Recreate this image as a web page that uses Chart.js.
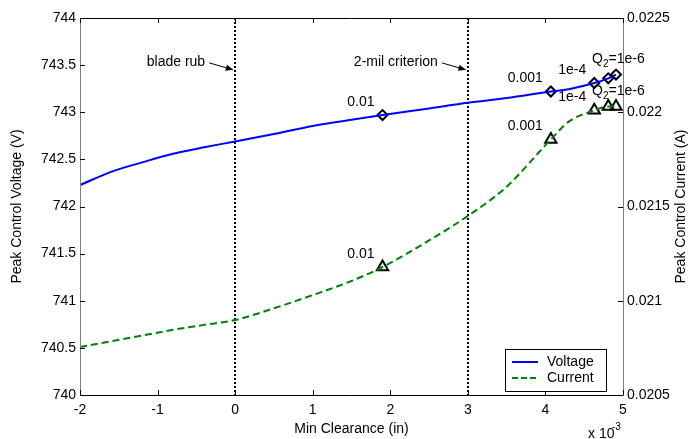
<!DOCTYPE html>
<html>
<head>
<meta charset="utf-8">
<script src="https://cdn.jsdelivr.net/npm/chart.js@4"></script>
<style>
  body { margin: 0; background: #fff; }
  #wrap { width: 690px; height: 439px; position: relative; }
</style>
</head>
<body>
<div id="wrap"><canvas id="myChart"></canvas></div>
<script>
const FONT = '"Liberation Sans", Arial, sans-serif';

// curve samples (x in units of 1e-3 in)
const clearance = [-2, -1.6, -1.2, -0.8, -0.4, 0, 0.5, 1, 1.5, 1.9, 2.5, 3, 3.5, 4.07, 4.3, 4.63, 4.81, 4.91];
const voltage = [742.227, 742.368, 742.468, 742.56, 742.628, 742.69, 742.77, 742.855, 742.92, 742.97,
  743.04, 743.10, 743.15, 743.22, 743.245, 743.31, 743.36, 743.40];
const current = [0.020755, 0.020785, 0.020815, 0.020846, 0.020872, 0.020898, 0.02096, 0.02103, 0.021105,
  0.021179, 0.02132, 0.02145, 0.021605, 0.021856, 0.02195, 0.02201, 0.02203, 0.02203];

// Q2 markers
const markerClearance = [1.9, 4.07, 4.63, 4.81, 4.91];
const markerVoltage = [742.97, 743.22, 743.31, 743.36, 743.40];
const markerCurrent = [0.021179, 0.021856, 0.02201, 0.02203, 0.02203];
const markerLabels = ["0.01", "0.001", "1e-4", "", "Q2=1e-6"];

// vertical reference lines
const refLines = [0, 3];
const refLabels = ["blade rub", "2-mil criterion"];

const toXY = (xs, ys) => xs.map((x, i) => ({ x, y: ys[i] }));
const fmt = v => String(Number(v.toFixed(6)));

function drawLabel(ctx, text, x, y) {
  ctx.fillStyle = "#000";
  ctx.textBaseline = "middle";
  if (text.startsWith("Q2")) {
    // Q with subscript 2
    ctx.textAlign = "left";
    let cx = x - 24;
    ctx.font = "14px " + FONT;
    ctx.fillText("Q", cx, y - 15);
    cx += ctx.measureText("Q").width;
    ctx.font = "10px " + FONT;
    ctx.fillText("2", cx, y - 10);
    cx += ctx.measureText("2").width;
    ctx.font = "14px " + FONT;
    ctx.fillText(text.slice(2), cx, y - 15);
  } else {
    ctx.font = "14px " + FONT;
    ctx.textAlign = "right";
    ctx.fillText(text, x - 8, y - 13);
  }
}

function arrow(ctx, x1, y1, x2, y2) {
  ctx.strokeStyle = "#000";
  ctx.fillStyle = "#000";
  ctx.lineWidth = 1;
  ctx.setLineDash([]);
  ctx.beginPath();
  ctx.moveTo(x1, y1);
  ctx.lineTo(x2, y2);
  ctx.stroke();
  const a = Math.atan2(y2 - y1, x2 - x1);
  ctx.beginPath();
  ctx.moveTo(x2, y2);
  ctx.lineTo(x2 - 8 * Math.cos(a - 0.4), y2 - 8 * Math.sin(a - 0.4));
  ctx.lineTo(x2 - 8 * Math.cos(a + 0.4), y2 - 8 * Math.sin(a + 0.4));
  ctx.closePath();
  ctx.fill();
}

const overlay = {
  id: "overlay",
  beforeDatasetsDraw(chart) {
    const { ctx, chartArea: ca, scales } = chart;
    ctx.save();
    ctx.strokeStyle = "#000";
    ctx.lineWidth = 2;
    ctx.setLineDash([2, 2]);
    refLines.forEach(v => {
      const x = Math.round(scales.x.getPixelForValue(v));
      ctx.beginPath();
      ctx.moveTo(x, ca.top);
      ctx.lineTo(x, ca.bottom);
      ctx.stroke();
    });
    ctx.restore();
  },
  afterDraw(chart) {
    const { ctx, chartArea: ca, scales } = chart;
    const sx = scales.x, sy = scales.y, sy1 = scales.y1;
    ctx.save();

    // frame
    ctx.setLineDash([]);
    ctx.lineWidth = 1;
    ctx.strokeStyle = "#000";
    ctx.beginPath();
    ctx.moveTo(ca.left, ca.top + 0.5); ctx.lineTo(ca.right, ca.top + 0.5);
    ctx.moveTo(ca.left, ca.bottom + 0.5); ctx.lineTo(ca.right, ca.bottom + 0.5);
    ctx.stroke();
    ctx.strokeStyle = "#808080";
    ctx.beginPath();
    ctx.moveTo(ca.left + 0.5, ca.top); ctx.lineTo(ca.left + 0.5, ca.bottom + 1);
    ctx.moveTo(ca.right + 0.5, ca.top); ctx.lineTo(ca.right + 0.5, ca.bottom + 1);
    ctx.stroke();

    // inward ticks
    ctx.strokeStyle = "#000";
    ctx.beginPath();
    sx.ticks.forEach(t => {
      const x = Math.round(sx.getPixelForValue(t.value)) + 0.5;
      ctx.moveTo(x, ca.bottom); ctx.lineTo(x, ca.bottom - 5);
      ctx.moveTo(x, ca.top); ctx.lineTo(x, ca.top + 5);
    });
    sy.ticks.forEach(t => {
      const y = Math.round(sy.getPixelForValue(t.value)) + 0.5;
      ctx.moveTo(ca.left, y); ctx.lineTo(ca.left + 5, y);
    });
    sy1.ticks.forEach(t => {
      const y = Math.round(sy1.getPixelForValue(t.value)) + 0.5;
      ctx.moveTo(ca.right, y); ctx.lineTo(ca.right - 5, y);
    });
    ctx.stroke();

    // marker labels
    markerClearance.forEach((c, i) => {
      if (!markerLabels[i]) return;
      const x = sx.getPixelForValue(c);
      drawLabel(ctx, markerLabels[i], x, sy.getPixelForValue(markerVoltage[i]));
      drawLabel(ctx, markerLabels[i], x, sy1.getPixelForValue(markerCurrent[i]));
    });

    // reference line annotations
    ctx.font = "14px " + FONT;
    ctx.fillStyle = "#000";
    ctx.textAlign = "right";
    ctx.textBaseline = "middle";
    refLines.forEach((v, i) => {
      const x = sx.getPixelForValue(v);
      const yEnd = sy.getPixelForValue(743.45);
      ctx.fillText(refLabels[i], x - 30, yEnd - 8);
      arrow(ctx, x - 26, yEnd - 7, x - 2, yEnd);
    });

    // legend
    const lw = 101, lh = 42;
    const lx = ca.right - 17, ly = ca.bottom - 4;
    ctx.fillStyle = "#fff";
    ctx.fillRect(lx - lw, ly - lh, lw, lh);
    ctx.strokeStyle = "#000";
    ctx.lineWidth = 1;
    ctx.strokeRect(lx - lw + 0.5, ly - lh + 0.5, lw, lh);
    const items = [
      { label: "Voltage", color: "#0000ff", dash: [] },
      { label: "Current", color: "#008000", dash: [6, 3] }
    ];
    items.forEach((it, i) => {
      const y = ly - lh + 13 + i * 16;
      ctx.strokeStyle = it.color;
      ctx.lineWidth = 2;
      ctx.setLineDash(it.dash);
      ctx.beginPath();
      ctx.moveTo(lx - lw + 7, y);
      ctx.lineTo(lx - lw + 33, y);
      ctx.stroke();
      ctx.setLineDash([]);
      ctx.fillStyle = "#000";
      ctx.textAlign = "left";
      ctx.font = "14px " + FONT;
      ctx.fillText(it.label, lx - lw + 42, y);
    });

    // axis titles
    ctx.fillStyle = "#000";
    ctx.font = "14px " + FONT;
    ctx.textAlign = "center";
    ctx.textBaseline = "middle";
    const midY = (ca.top + ca.bottom) / 2;
    ctx.save();
    ctx.translate(17, midY);
    ctx.rotate(-Math.PI / 2);
    ctx.fillText("Peak Control Voltage (V)", 0, 0);
    ctx.restore();
    ctx.save();
    ctx.translate(681, midY);
    ctx.rotate(-Math.PI / 2);
    ctx.fillText("Peak Control Current (A)", 0, 0);
    ctx.restore();
    ctx.fillText("Min Clearance (in)", (ca.left + ca.right) / 2, 429);

    // exponent
    ctx.textAlign = "left";
    ctx.fillText("x 10", ca.right - 35, 434);
    ctx.font = "10px " + FONT;
    ctx.fillText("-3", ca.right - 11, 427);
    ctx.restore();
  }
};

const tickFont = { family: FONT, size: 14 };

new Chart(document.getElementById("myChart"), {
  type: "line",
  data: {
    datasets: [
      {
        label: "Voltage",
        data: toXY(clearance, voltage),
        yAxisID: "y",
        borderColor: "#0000ff",
        borderWidth: 2,
        pointRadius: 0,
        cubicInterpolationMode: "monotone"
      },
      {
        label: "Current",
        data: toXY(clearance, current),
        yAxisID: "y1",
        borderColor: "#008000",
        borderWidth: 2,
        borderDash: [7, 4],
        pointRadius: 0,
        cubicInterpolationMode: "monotone"
      },
      {
        label: "Voltage Q2",
        data: toXY(markerClearance, markerVoltage),
        yAxisID: "y",
        showLine: false,
        pointStyle: "rectRot",
        pointRadius: 5,
        pointBorderWidth: 2,
        pointBorderColor: "#000",
        pointBackgroundColor: "rgba(0,0,0,0)"
      },
      {
        label: "Current Q2",
        data: toXY(markerClearance, markerCurrent),
        yAxisID: "y1",
        showLine: false,
        pointStyle: "triangle",
        pointRadius: 6.5,
        pointBorderWidth: 2,
        pointBorderColor: "#000",
        pointBackgroundColor: "rgba(0,0,0,0)"
      }
    ]
  },
  options: {
    responsive: true,
    maintainAspectRatio: false,
    animation: false,
    layout: { padding: { top: 18, left: 0, right: 0, bottom: 0 } },
    plugins: { legend: { display: false }, tooltip: { enabled: false } },
    scales: {
      x: {
        type: "linear",
        min: -2,
        max: 5,
        ticks: { stepSize: 1, color: "#000", font: tickFont, padding: 7, callback: v => String(v), maxRotation: 0 },
        grid: { display: false, drawTicks: false },
        border: { display: false },
        afterFit: s => { s.height = 44; }
      },
      y: {
        position: "left",
        min: 740,
        max: 744,
        ticks: { stepSize: 0.5, color: "#000", font: tickFont, padding: 4, callback: fmt },
        grid: { display: false, drawTicks: false },
        border: { display: false },
        afterFit: s => { s.width = 80; }
      },
      y1: {
        position: "right",
        min: 0.0205,
        max: 0.0225,
        ticks: { stepSize: 0.0005, color: "#000", font: tickFont, padding: 4, callback: fmt },
        grid: { display: false, drawTicks: false },
        border: { display: false },
        afterFit: s => { s.width = 67; }
      }
    }
  },
  plugins: [overlay]
});
</script>
</body>
</html>
